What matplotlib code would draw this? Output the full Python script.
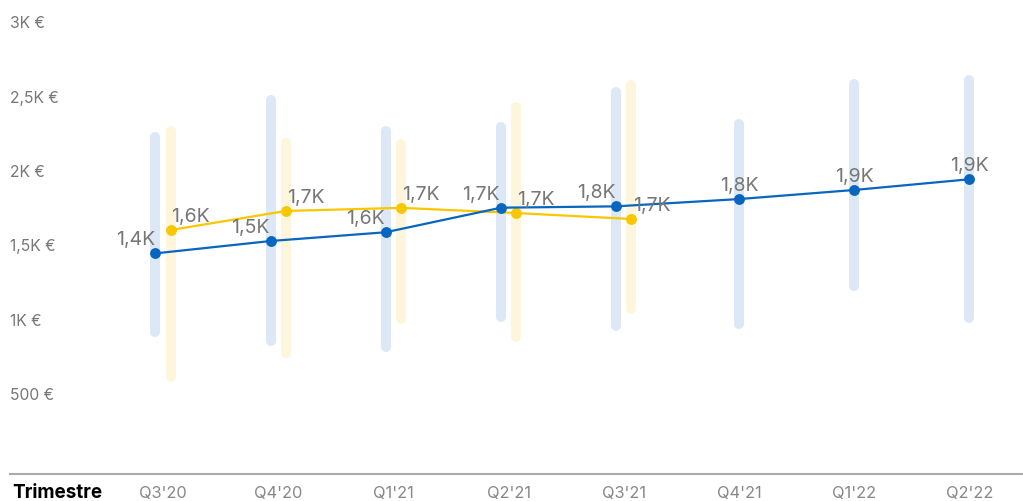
import matplotlib
matplotlib.use("Agg")
import matplotlib.pyplot as plt

categories = ["Q3'20", "Q4'20", "Q1'21", "Q2'21", "Q3'21", "Q4'21", "Q1'22", "Q2'22"]
blue_values = [1439, 1522, 1581, 1746, 1755, 1804, 1865, 1937]
blue_low = [911, 852, 808, 1009, 953, 964, 1222, 1003]
blue_high = [2223, 2470, 2259, 2286, 2522, 2308, 2577, 2604]
yellow_values = [1596, 1724, 1745, 1710, 1670]
yellow_low = [608, 767, 998, 875, 1065]
yellow_high = [2263, 2183, 2174, 2421, 2573]
y_ticks = [500, 1000, 1500, 2000, 2500, 3000]
y_tick_labels = ["500 €", "1K €", "1,5K €", "2K €", "2,5K €", "3K €"]
x_title = "Trimestre"

BLUE = "#0866BF"
BLUE_BAND = "#DCE8F5"
YELLOW = "#FAC600"
YELLOW_BAND = "#FEF6DC"
GRAY_TXT = "#777777"

plt.rcParams['font.family'] = ['Inter', 'DejaVu Sans']

W, H = 1023, 502
BOT = 474.5
TOP = 5
fig = plt.figure(figsize=(W / 100, H / 100), dpi=100)
ax = fig.add_axes([10 / W, (H - BOT) / H, 1013 / W, (BOT - TOP) / H])

n = len(categories)
ny = len(yellow_values)
off = 0.0668
bx = [i - off if i < ny else i for i in range(n)]
yx = [i + off for i in range(ny)]

# range bands
for x, lo, hi in zip(bx, blue_low, blue_high):
    ax.plot([x, x], [lo, hi], color=BLUE_BAND, lw=7.2, solid_capstyle='round', zorder=1)
for x, lo, hi in zip(yx, yellow_low, yellow_high):
    ax.plot([x, x], [lo, hi], color=YELLOW_BAND, lw=7.2, solid_capstyle='round', zorder=1)

# lines
ax.plot(yx, yellow_values, color=YELLOW, lw=1.6, marker='o', ms=6.8, zorder=3)
ax.plot(bx, blue_values, color=BLUE, lw=1.6, marker='o', ms=6.8, zorder=4)

def fmt(v):
    return f"{v/1000:.1f}".replace('.', ',') + "K"

for i, (x, v) in enumerate(zip(bx, blue_values)):
    dx = -20 if i < ny else 0
    ax.annotate(fmt(v), (x, v), xytext=(dx * 0.72, 9 * 0.72), textcoords='offset points',
                ha='center', va='baseline', fontsize=14, color=GRAY_TXT, zorder=5)
for x, v in zip(yx, yellow_values):
    ax.annotate(fmt(v), (x, v), xytext=(20 * 0.72, 9 * 0.72), textcoords='offset points',
                ha='center', va='baseline', fontsize=14, color=GRAY_TXT, zorder=5)

ax.set_xlim((10 - 163) / 115.2, (1023 - 163) / 115.2)
ax.set_ylim((468.5 - BOT) / 0.1488, (468.5 - TOP) / 0.1488)

ax.set_yticks(y_ticks)
ax.set_yticklabels(y_tick_labels)
ax.tick_params(axis='y', length=0, pad=0, labelsize=11.3, labelcolor=GRAY_TXT)
for lab in ax.get_yticklabels():
    lab.set_horizontalalignment('left')

ax.set_xticks(range(n))
ax.set_xticklabels(categories)
ax.tick_params(axis='x', length=0, pad=8, labelsize=11.8, labelcolor="#888888")

for s in ['top', 'right', 'left']:
    ax.spines[s].set_visible(False)
ax.spines['bottom'].set_color("#AAAAAA")
ax.spines['bottom'].set_linewidth(1.5)

fig.text(12 / W, (H - 493) / H, x_title, ha='left', va='center', fontsize=13.6,
         fontweight='bold', color='black')

fig.savefig("out.png", dpi=100)
